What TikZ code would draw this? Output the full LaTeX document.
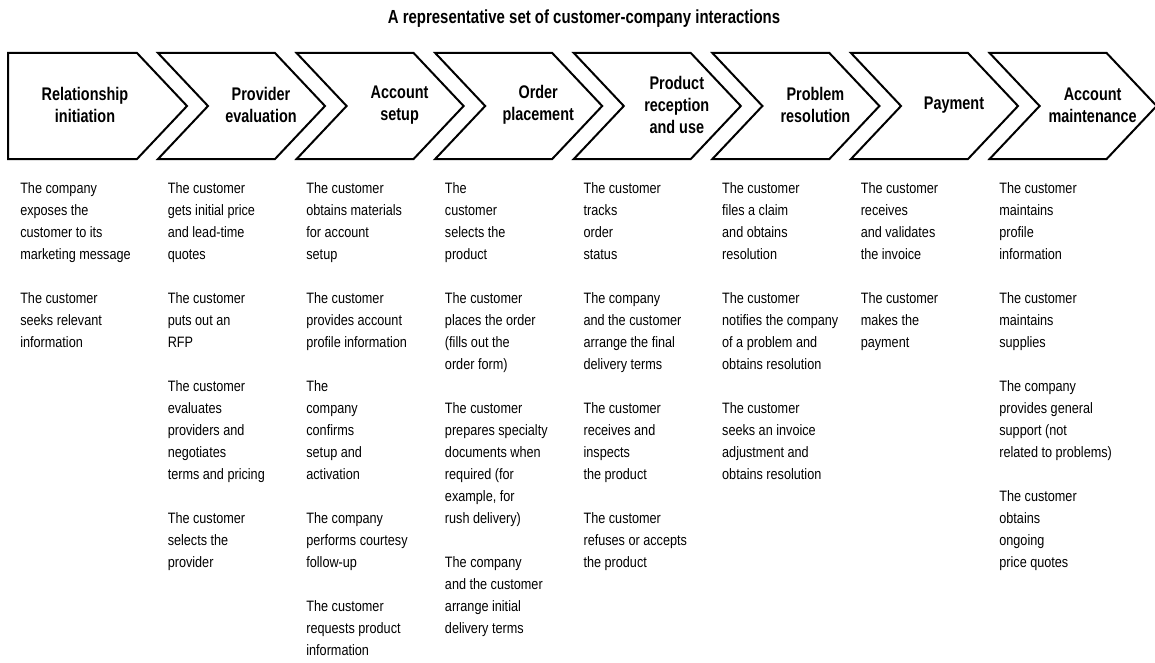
\documentclass[tikz,border=0pt]{standalone}
\usepackage{fontspec}
\setmainfont{Liberation Sans}[FakeStretch=0.84]
\newfontfamily\headfont{Liberation Sans}[FakeStretch=0.79]
\usetikzlibrary{positioning}
\tikzset{
  stage/.style      = {draw, line width=1.5pt, line join=miter, fill=white},
  heading/.style    = {font=\headfont\bfseries\fontsize{14.2}{16}\selectfont,
                       inner sep=0pt},
  stagelabel/.style = {align=center, inner sep=0pt,
                       font=\headfont\bfseries\fontsize{13.7}{16.5}\selectfont},
  activity/.style   = {anchor=north west, align=left, inner sep=0pt,
                       font=\fontsize{11.3}{16.5}\selectfont},
}
\newcommand{\pgap}{\\[16.5pt]}

\begin{document}
\begin{tikzpicture}[x=0.75pt, y=-0.75pt]
  \useasboundingbox (0,0) rectangle (1155,663);
  \node[heading] (title) at (584,19) {A representative set of customer-company interactions};

  % first stage has a flat back, the others a notch
  \draw[stage] (8,53) -- (137,53) -- (187,106) -- (137,159) -- (8,159) -- cycle;
  \foreach \a in {158,296.6,435.2,573.8,712.4,851,989.6}
    \draw[stage] (\a,53) -- ++(117,0) -- ++(50,53) -- ++(-50,53)
                 -- ++(-117,0) -- ++(50,-53) -- cycle;

  \node[stagelabel] (s1) at (85,105)    {Relationship\\initiation};
  \node[stagelabel] (s2) at (261,105)   {Provider\\evaluation};
  \node[stagelabel] (s3) at (399.6,105) {Account\\setup};
  \node[stagelabel] (s4) at (538.2,105) {Order\\placement};
  \node[stagelabel] (s5) at (676.8,105) {Product\\reception\\and use};
  \node[stagelabel] (s6) at (815.4,105) {Problem\\resolution};
  \node[stagelabel] (s7) at (954,105)   {Payment};
  \node[stagelabel] (s8) at (1092.6,105) {Account\\maintenance};

  \node[activity] (c1) at (20,182) {The company\\exposes the\\customer to its\\marketing message\pgap
    The customer\\seeks relevant\\information};
  \node[activity] (c2) at (167.5,182) {The customer\\gets initial price\\and lead-time\\quotes\pgap
    The customer\\puts out an\\RFP\pgap
    The customer\\evaluates\\providers and\\negotiates\\terms and pricing\pgap
    The customer\\selects the\\provider};
  \node[activity] (c3) at (306.1,182) {The customer\\obtains materials\\for account\\setup\pgap
    The customer\\provides account\\profile information\pgap
    The\\company\\confirms\\setup and\\activation\pgap
    The company\\performs courtesy\\follow-up\pgap
    The customer\\requests product\\information};
  \node[activity] (c4) at (444.7,182) {The\\customer\\selects the\\product\pgap
    The customer\\places the order\\(fills out the\\order form)\pgap
    The customer\\prepares specialty\\documents when\\required (for\\example, for\\rush delivery)\pgap
    The company\\and the customer\\arrange initial\\delivery terms};
  \node[activity] (c5) at (583.3,182) {The customer\\tracks\\order\\status\pgap
    The company\\and the customer\\arrange the final\\delivery terms\pgap
    The customer\\receives and\\inspects\\the product\pgap
    The customer\\refuses or accepts\\the product};
  \node[activity] (c6) at (721.9,182) {The customer\\files a claim\\and obtains\\resolution\pgap
    The customer\\notifies the company\\of a problem and\\obtains resolution\pgap
    The customer\\seeks an invoice\\adjustment and\\obtains resolution};
  \node[activity] (c7) at (860.5,182) {The customer\\receives\\and validates\\the invoice\pgap
    The customer\\makes the\\payment};
  \node[activity] (c8) at (999.1,182) {The customer\\maintains\\profile\\information\pgap
    The customer\\maintains\\supplies\pgap
    The company\\provides general\\support (not\\related to problems)\pgap
    The customer\\obtains\\ongoing\\price quotes};
\end{tikzpicture}
\end{document}
